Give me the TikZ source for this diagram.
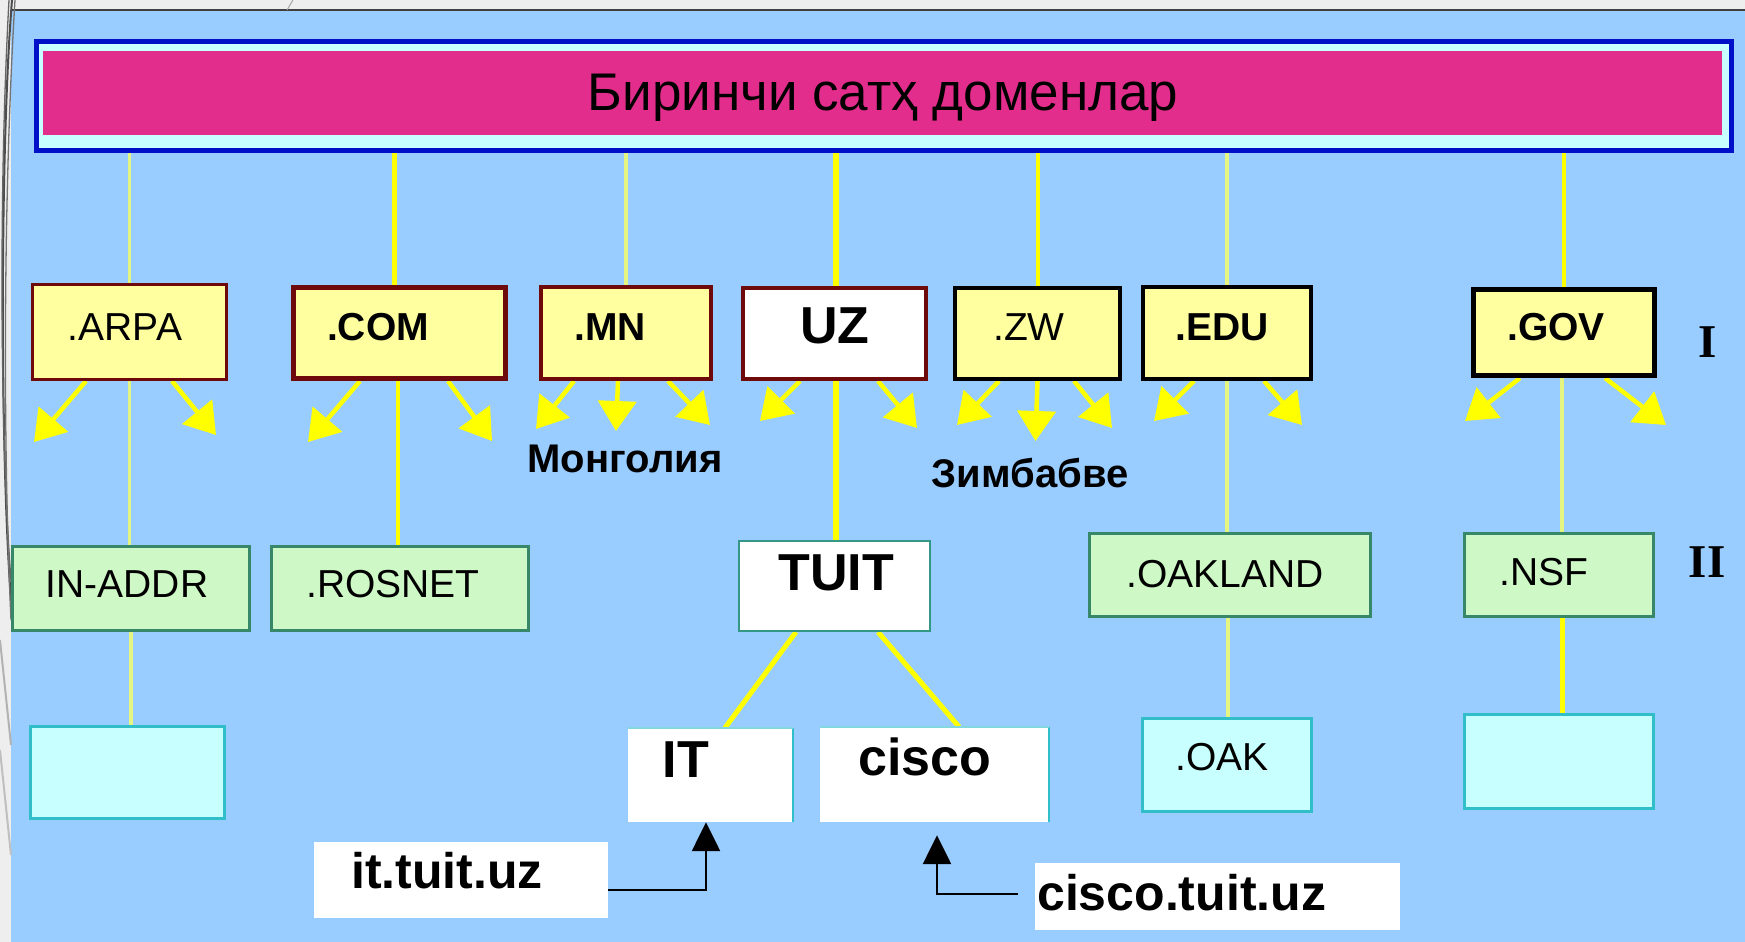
\documentclass[tikz,border=0pt]{standalone}
\usepackage{fontspec}
\setmainfont{Liberation Sans}
\newfontfamily\romfont{Liberation Serif}
\usetikzlibrary{arrows.meta}
\definecolor{bgblue}{RGB}{153,204,255}
\definecolor{banblue}{RGB}{0,16,200}
\definecolor{lcyan}{RGB}{200,255,255}
\definecolor{mypink}{RGB}{226,45,140}
\definecolor{byel}{RGB}{255,255,160}
\definecolor{dred}{RGB}{110,10,10}
\definecolor{lgreen}{RGB}{206,248,198}
\definecolor{dgreen}{RGB}{55,135,105}
\definecolor{tealb}{RGB}{48,190,200}
\definecolor{yline}{RGB}{255,255,0}
\definecolor{pline}{RGB}{228,245,130}
\definecolor{edgegray}{RGB}{238,238,238}
\newcommand\fzT{\fontsize{53}{60}\selectfont}
\newcommand\fzS{\fontsize{39}{44}\selectfont}
\newcommand\fzB{\bfseries\fontsize{52}{60}\selectfont}
\newcommand\fzL{\bfseries\fontsize{50}{58}\selectfont}
\newcommand\fzC{\bfseries\fontsize{40}{46}\selectfont}
\newcommand\fzR{\romfont\bfseries\fontsize{47}{52}\selectfont}
\pgfdeclarelayer{bg}
\pgfsetlayers{bg,main}
\begin{document}
\begin{tikzpicture}[x=1pt,y=-1pt,
  yb/.style={rectangle, draw=dred, fill=byel, inner sep=0pt},
  gb/.style={rectangle, draw=dgreen, fill=lgreen, line width=3pt, inner sep=0pt},
  cb/.style={rectangle, draw=tealb, fill=lcyan, line width=3pt, inner sep=0pt},
  wb/.style={rectangle, fill=white, inner sep=0pt},
  lbl/.style={anchor=base, inner sep=0pt, font=\fzS},
  thinyl/.style={draw=pline, line width=3.5pt},
  thickyl/.style={draw=yline, line width=5pt},
  yarr/.style={draw=yline, line width=4.5pt, -{Triangle[length=30pt,width=38pt]}},
  barr/.style={draw=black, line width=2.5pt, -{Triangle[length=29pt,width=28pt]}}
]
\useasboundingbox (0,0) rectangle (1745,942);

% ---------- banner
\node[draw=banblue, line width=5pt, fill=lcyan, minimum width=1695pt, minimum height=109pt, inner sep=0pt] (banner) at (884,96) {};
\node[fill=mypink, minimum width=1679pt, minimum height=84pt, inner sep=0pt] (pinkbar) at (882.5,93) {};
\node[anchor=base, inner sep=0pt, font=\fzT] (title) at (883,110) {Биринчи сатҳ доменлар};

% ---------- level I
\node[yb, line width=3pt, minimum width=194pt, minimum height=95pt] (arpa) at (129.5,332) {};
\node[yb, line width=5pt, minimum width=212pt, minimum height=91pt] (com) at (399.5,333) {};
\node[yb, line width=4pt, minimum width=170pt, minimum height=92pt] (mn) at (626,333) {};
\node[yb, fill=white, line width=4pt, minimum width=183pt, minimum height=91pt] (uz) at (834.5,333.5) {};
\node[yb, draw=black, line width=4pt, minimum width=165pt, minimum height=91pt] (zw) at (1037.5,333.5) {};
\node[yb, draw=black, line width=4pt, minimum width=168pt, minimum height=92pt] (edu) at (1227,333) {};
\node[yb, draw=black, line width=5pt, minimum width=181pt, minimum height=86pt] (gov) at (1564,332.5) {};

\node[lbl] (tarpa) at (125,340) {.ARPA};
\node[lbl, font=\fzS\bfseries] (tcom) at (378,340) {.COM};
\node[lbl, font=\fzS\bfseries] (tmn) at (610,340) {.MN};
\node[lbl, font=\fzB] (tuz) at (835,343) {UZ};
\node[lbl] (tzw) at (1029,340) {.ZW};
\node[lbl, font=\fzS\bfseries] (tedu) at (1222,340) {.EDU};
\node[lbl, font=\fzS\bfseries] (tgov) at (1556,340) {.GOV};
\node[lbl, font=\fzR] (rom1) at (1708,357) {I};

\node[lbl, font=\fzC] (mong) at (625,472) {Монголия};
\node[lbl, font=\fzC] (zimb) at (1030,487) {Зимбабве};

% ---------- level II
\node[gb, minimum width=237pt, minimum height=84pt] (inaddr) at (131,588.5) {};
\node[gb, minimum width=257pt, minimum height=84pt] (rosnet) at (400,588.5) {};
\node[gb, fill=white, draw=dgreen!70!tealb, line width=2pt, minimum width=191pt, minimum height=90pt] (tuit) at (834.5,586) {};
\node[gb, minimum width=281pt, minimum height=83pt] (oakland) at (1230,575) {};
\node[gb, minimum width=189pt, minimum height=83pt] (nsf) at (1559,575) {};

\node[lbl] (tinaddr) at (127,597) {IN-ADDR};
\node[lbl] (trosnet) at (393,597) {.ROSNET};
\node[lbl, font=\fzB] (ttuit) at (836,590) {TUIT};
\node[lbl] (toakland) at (1225,587) {.OAKLAND};
\node[lbl] (tnsf) at (1544,585) {.NSF};
\node[lbl, font=\fzR] (rom2) at (1707,577) {II};

% ---------- level III
\node[cb, minimum width=194pt, minimum height=92pt] (emp1) at (127.5,772.5) {};
\node[wb, minimum width=165pt, minimum height=94pt] (it) at (710.5,775) {};
\node[wb, minimum width=229pt, minimum height=95pt] (cisco) at (934.5,774.5) {};
\node[cb, minimum width=169pt, minimum height=93pt] (oak) at (1227,765) {};
\node[cb, minimum width=189pt, minimum height=94pt] (emp2) at (1559,761.5) {};
\draw[tealb, line width=2pt] (it.north east) -- (it.south east);
\draw[tealb!60, line width=1.5pt] (it.north west) -- (it.north east);
\draw[tealb, line width=2pt] (cisco.north east) -- (cisco.south east);
\draw[tealb!60, line width=1.5pt] (cisco.north west) -- (cisco.north east);

\node[lbl, font=\fzB] (tit) at (686,777) {IT};
\node[lbl, font=\fzB] (tcisco) at (925,775) {cisco};
\node[lbl] (toak) at (1222,770) {.OAK};

% ---------- name labels
\node[wb, minimum width=294pt, minimum height=76pt] (itl) at (461,880) {};
\node[wb, minimum width=365pt, minimum height=67pt] (ciscol) at (1217.5,896.5) {};
\node[lbl, font=\fzL] (titl) at (447,888) {it.tuit.uz};
\node[lbl, font=\fzL, anchor=base west] (tciscol) at (1037,910) {cisco.tuit.uz};

\draw[barr] ([yshift=-10pt]itl.east) -| ([xshift=-4.5pt]it.south);
\draw[barr, shorten >=13pt] ([shift={(-17pt,2.5pt)}]ciscol.west) -| ([xshift=2.5pt]cisco.south);

% ---------- background layer: page, connectors, arrows
\begin{pgfonlayer}{bg}
\fill[edgegray] (0,0) rectangle (1745,942);
\fill[bgblue] (11,10) rectangle (1745,942);
\draw[black!75, line width=2pt] (11,10) -- (1745,10);
\draw[black!70, line width=2pt] (12,0) .. controls (0,150) and (0,450) .. (11,600);
\draw[black!60, line width=1.3pt] (9,0) .. controls (-2,200) and (1,450) .. (11,580);
\draw[black!55, line width=1.3pt] (15,0) .. controls (3,200) and (3,450) .. (11,620);
\draw[black!30, line width=2pt] (0,640) -- (11,745);
\draw[black!25, line width=2pt] (0,750) -- (11,855);
\draw[black!35, line width=1pt] (293,0) -- (287,10);

% banner -> level I
\draw[thinyl] (arpa.north) -- (arpa.north |- banner.south);
\draw[thickyl] ([xshift=-5pt]com.north) -- ([xshift=-5pt]com.north |- banner.south);
\draw[thinyl, line width=4pt] (mn.north) -- (mn.north |- banner.south);
\draw[thickyl, line width=6pt] ([xshift=1.5pt]uz.north) -- ([xshift=1.5pt]uz.north |- banner.south);
\draw[thickyl, line width=4pt] (zw.north) -- (zw.north |- banner.south);
\draw[thinyl, line width=4pt] (edu.north) -- (edu.north |- banner.south);
\draw[thickyl, line width=4pt] (gov.north) -- (gov.north |- banner.south);

% level I -> level II
\draw[thinyl] (arpa.south) -- (arpa.south |- inaddr.north);
\draw[thickyl, line width=4pt] ([xshift=-1.5pt]com.south) -- ([xshift=-1.5pt]com.south |- rosnet.north);
\draw[thickyl, line width=6pt] ([xshift=1.5pt]uz.south) -- ([xshift=1.5pt]uz.south |- tuit.north);
\draw[thinyl] (edu.south) -- (edu.south |- oakland.north);
\draw[thinyl, line width=4pt] ([xshift=-2pt]gov.south) -- ([xshift=-2pt]gov.south |- nsf.north);

% level II -> level III
\draw[thinyl] (inaddr.south) -- (inaddr.south |- emp1.north);
\draw[thickyl] ([xshift=-38.5pt]tuit.south) -- ([xshift=14.5pt]it.north);
\draw[thickyl] ([xshift=43.5pt]tuit.south) -- ([xshift=24.5pt]cisco.north);
\draw[thinyl] ([xshift=-2pt]oakland.south) -- ([xshift=-2pt]oakland.south |- oak.north);
\draw[thickyl] ([xshift=3pt]nsf.south) -- ([xshift=3pt]nsf.south |- emp2.north);

% yellow arrows under level I
\draw[yarr] ([xshift=-43.5pt]arpa.south) -- ++(-52,61);
\draw[yarr] ([xshift=42.5pt]arpa.south) -- ++(44,54);
\draw[yarr] ([xshift=-39.5pt]com.south) -- ++(-52,61);
\draw[yarr] ([xshift=48.5pt]com.south) -- ++(44,60);
\draw[yarr] ([xshift=-52pt]mn.south) -- ++(-38,48);
\draw[yarr] ([xshift=-8pt]mn.south) -- ++(-2,50);
\draw[yarr] ([xshift=42pt]mn.south) -- ++(42,44);
\draw[yarr] ([xshift=-34.5pt]uz.south) -- ++(-40,40);
\draw[yarr] ([xshift=43.5pt]uz.south) -- ++(39,47);
\draw[yarr] ([xshift=-38.5pt]zw.south) -- ++(-42,44);
\draw[yarr] (zw.south) -- ++(-2,60);
\draw[yarr] ([xshift=36.5pt]zw.south) -- ++(38,47);
\draw[yarr] ([xshift=-33pt]edu.south) -- ++(-40,40);
\draw[yarr] ([xshift=37pt]edu.south) -- ++(38,44);
\draw[yarr] ([xshift=-44pt]gov.south) -- ++(-55,43);
\draw[yarr] ([xshift=41pt]gov.south) -- ++(61,47);
\end{pgfonlayer}
\end{tikzpicture}
\end{document}
